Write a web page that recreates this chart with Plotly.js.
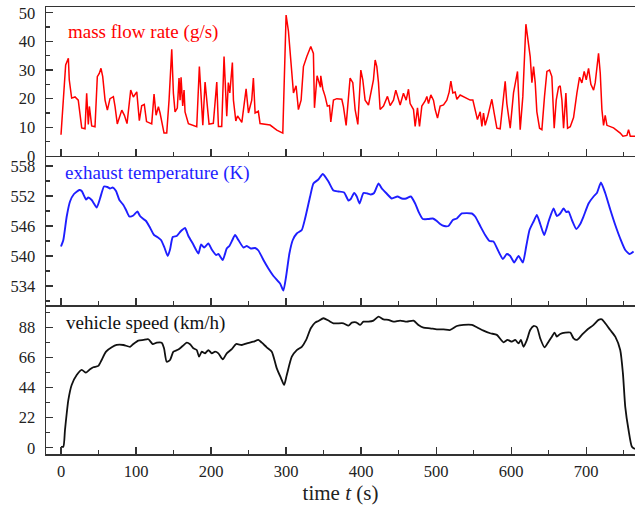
<!DOCTYPE html>
<html>
<head>
<meta charset="utf-8">
<script src="https://cdn.plot.ly/plotly-3.0.1.min.js"></script>
<style>html,body{margin:0;padding:0;background:#fff;}#chart{width:635px;height:510px;}</style>
</head>
<body>
<div id="chart"></div>
<script>
// mass flow rate (g/s)
const flowTime = [0,6.2,9.8,11,14.2,18.7,23,25.3,27.6,32,34.2,36.4,37.8,40.9,45.3,48.4,51,53.3,55.6,58.7,61.8,65.3,69.8,72,75,81,84.5,88,92.9,96.4,101,104.4,107.5,111,114,120.9,124,126.7,129.8,132,137.3,140.9,144,147.6,149.8,152,155,157.3,158.7,160,162.2,164,165.3,169.8,180.9,184.4,186.7,189,192,194.2,197.3,203,207.6,209.8,214.2,217.3,220.9,223,225,228.4,229.8,233,235.3,241,243.6,246.7,249.8,254.2,256.4,258.7,263,265.3,278.7,287.6,295.6,300,303.1,307.6,309.8,313.3,316.4,320,323.1,327.6,332.9,336.4,337.8,341.3,345.8,346.2,349,352,355,357.8,359.6,363.1,367.6,374.2,376.4,380,385.3,388.9,392,395.6,399.6,402.2,405.3,409.8,412.9,416.4,418.7,420.9,423.1,425.3,429.8,435.1,438.7,443.1,446.2,448.9,452,456.4,460,463.1,465.3,469.8,472,475.1,477.8,480.9,485.3,487.6,489.8,492.9,496.4,498.7,501.8,505.3,509.8,514.2,517.3,519.6,522.2,525.3,527.6,532,545.3,548.9,552,555,558.7,560.9,563.1,565.3,568.4,572,574.2,577.3,580.9,585.3,589.8,592,594.2,598.7,603.1,608.4,612,615.5,619.6,623.1,625.3,627.6,629.8,632,634.2,637.8,640.9,644.4,647.6,651.1,654.2,657.3,660,663.1,665.3,667.6,669.8,672.9,675.1,678.7,683.1,687.6,691.1,694.2,697.3,700,703.1,706.2,709.8,712,716.4,718.7,720.9,723.1,725.3,727.6,736.4,745.3,748.9,754.2,756.4,758.7,765];
const flowRate = [7.4,31.8,34.1,26.6,20.2,20.6,19.5,15,9.8,9.5,21.9,11,17.3,10.5,10.2,27.7,28.8,30.6,27.7,19.5,16,20,20.7,17.3,11.2,16,14.2,11.3,23,20.6,22.4,12.3,17.5,18,12,11.2,21.6,14.2,17.2,15,8,8,19.5,37.2,21.9,15.4,16.7,27.2,19.5,27.5,17.5,23,15.4,11.3,10.2,31.2,22,10.7,25.8,19.5,11.1,11.4,25.8,10.3,10.3,34.7,13.9,25.6,22,32.6,19.5,12.2,14,11.7,17.2,23.4,15,19.5,27.2,15,15.6,11.3,10.8,9,8,49.2,43.6,27.2,22,24.5,16.2,19.5,31.2,34.7,38.2,35.8,16.8,28,24,28,23.3,20.8,17.4,17.6,11.9,19.5,20,19.8,17.2,10.7,27.2,25.6,16.2,11,30,26.6,19.5,17.8,22.3,26.6,33.5,31.2,25.6,16.2,17.4,20.8,17.6,19.5,23,20.8,17.8,21.9,19.5,23.3,18.3,16.2,10.3,16.8,10.3,17.4,19.2,20.8,18.3,21.3,19.5,16.2,13.2,17.4,17.8,19.5,22.3,26.1,22,22.3,19.8,21.3,19.5,19.5,16.2,12.7,15.4,10.3,15,10.7,13.5,17.4,19.8,15,9.7,9.5,20.8,26.1,18.3,9.7,22,29.5,9.2,20.8,46,38.2,34.7,25.6,31.2,25.6,15.4,9.7,9.2,20.8,29.5,30,27.7,9.7,19.5,24,24.5,19.5,9.7,22,9.7,10.2,13.4,22,27.5,25.5,29.5,26.6,30.6,25,23,25.6,35.8,28.9,16.2,10.7,14.2,10.7,9.8,8,6.9,7.2,9.2,6.9,6.9];

// exhaust temperature (K)
const tempTime = [0,3.1,7.6,12,17.3,24.4,27.6,33.3,36.4,40.9,47.6,52,57.3,61.8,65.3,68.9,73.3,77.8,83.1,86.7,91.1,96.4,101.8,105.3,109.8,113.3,117.8,124,128.4,133.3,137.8,142.2,145.3,148.9,154.2,158.7,162.2,165.3,169.8,175.6,183.1,186.7,190.7,196.4,200.9,206.7,209.8,215.6,220.9,224.4,228.4,232,236.4,243.1,247.6,252.9,258.7,263.1,269.8,276.4,283.1,292,296.4,300,304.4,308.9,314.2,320.9,325.3,332,336.4,343,348.9,356.4,363.1,369.8,377.3,383.1,386.2,390.7,394.2,397.8,403.1,408.4,412.9,417.3,423.1,427.6,433.3,440.9,448.4,454.2,460,466.2,472,476.4,482.2,489.8,495.6,500.9,505.3,510.7,516.4,522.2,527.6,534.2,547.6,552,558.7,565.3,571.1,576.4,582.2,588.9,594.2,598.7,604,609.8,615.6,620,624.4,629.8,634.2,638.7,644,649.8,656.4,660.9,665.3,669.8,673.3,676.4,680.9,686.7,692,696.4,703.1,709.8,714.2,719.6,725.3,732,738.7,745.3,752,757.8,763.1];
const tempK = [541.9,543.2,547.9,550.9,552.4,553.2,553,551.3,551.7,551.2,549.7,551.5,553.9,553.8,553.5,553.7,553,551.2,550.2,549.2,547.9,548.1,548.9,548,547.4,547,545.9,544.2,543.8,543.2,541.7,540,541.3,543.8,544,544.8,545.3,545.6,544,542.5,540.5,542.3,541.7,542.5,541.3,540.2,540.4,539.2,541.5,542,543.2,544.2,543.2,541.7,542,541.5,541.6,541.1,539.2,537.5,536,534.5,533.1,535.9,540.5,543.2,544.5,545.2,547.5,551.9,554.5,555.3,556.4,554.9,553.1,552.9,552.7,551.1,551.4,552.6,551.9,550.5,552.6,552.5,552.3,552.6,554.5,553.5,552.6,551.5,551.9,551.5,551.5,551.9,550.5,548.9,547.4,547.4,547.5,547,546.4,546,546,547.2,547.5,548.5,548.5,547.9,546,544.2,543,542.9,541.2,539.4,540.4,540,538.7,540,538.7,541.9,545.2,546.9,548.2,546.4,544.2,546.9,549.5,548,548.5,549.5,548.8,548.9,547.2,545.4,546.4,547.9,550.5,551.9,552.6,554.7,552.6,549.3,546.2,543.5,541.2,540.4,540.9];

// vehicle speed (km/h)
const speedTime = [0,3.1,5.3,9.8,14.2,20.9,27.6,33.3,38.7,43.1,49.8,54.2,60,67.6,74.2,83.1,92,96.4,103.1,109.8,116.4,122.2,127.6,134.2,137.3,140.9,145.3,149.8,156.4,162.2,167.6,172,176.4,180.9,184,187.6,192,196.4,200.9,205.3,209.8,215.6,220.9,227.6,233.3,240.9,247.6,256.4,263.1,267.6,274.2,280.9,287.6,293.3,297.3,300.9,307.6,314.2,320.9,326.7,332.9,338.7,343.1,349.8,356.4,363.1,376.4,383.1,387.6,393.3,398.7,403.1,409.8,416.4,423.1,429.8,436.4,443.1,452,460.9,469.8,476.4,483.1,492,500.9,509.8,518.7,527.6,536.4,547.6,554.2,563.1,572,580.9,589.8,595.1,600.9,605.3,609.8,612.9,616.4,620.9,625.3,629.8,634.2,638.7,644.4,649.8,654.2,657.8,660.9,665.3,672,678.7,683.1,687.6,694.2,700.9,709.8,716.4,720.9,725.3,732,738.7,745.3,748.9,752,756.4,760.9,765];
const speedKmh = [0.7,0.7,13,35,46,53.3,57,55,57.5,59,60,64.3,70.4,73.6,75.3,75.3,74,76,78.5,79,79.5,76,77,77,72.9,63,64.3,70.4,72,74.6,77,75.8,72.9,71.6,66.7,70.4,69.2,71.6,69.2,70.4,69.2,64.8,69.2,72.2,76,75.3,76.5,77.7,79,77,73.6,70.4,58.2,50.9,46,53.3,66.7,71.6,74,79,87.6,91.7,92.9,94.9,93.2,91.2,91.2,89.5,91.7,91.9,90,92.4,92.4,93.2,96.1,94.1,93.7,92.4,93.2,92.4,93.2,90,88,87.5,86.8,86.8,86.3,89.2,90,90,88.3,85.8,83.9,82.7,77.3,79,77.7,79,76.5,79,74,79,86.3,89.2,88.3,80.2,73.6,77.7,81.4,84.4,81.4,83.4,84.4,84.4,80.2,79,82.7,86.3,90,93.7,94.1,91.2,86.3,81.4,71.6,54.5,30,13,0.7,-1];

const serif = 'Liberation Serif, Times New Roman, serif';
const tickFont = {family: serif, size: 16.5, color: '#222'};
const axLine = '#333';

function xAx(extra) {
  return Object.assign({
    range: [-20, 765], showline: true, linecolor: axLine, linewidth: 1.5,
    ticks: 'inside', ticklen: 7, tickwidth: 1.3, tickcolor: axLine,
    dtick: 100, tick0: 0, showgrid: false, zeroline: false,
    minor: {ticks: 'inside', ticklen: 4, dtick: 50, tickcolor: axLine, tickwidth: 1.3},
    tickfont: tickFont
  }, extra);
}
function yAx(extra) {
  return Object.assign({
    showline: true, linecolor: axLine, linewidth: 1.5, mirror: false,
    ticks: 'inside', ticklen: 7, tickwidth: 1.3, tickcolor: axLine,
    showgrid: false, zeroline: false, tickfont: tickFont, ticklabelstandoff: 6
  }, extra);
}

const traces = [
  {x: speedTime, y: speedKmh, xaxis: 'x', yaxis: 'y', mode: 'lines',
   line: {color: '#111', width: 1.8, shape: 'spline', smoothing: 0.6}, hoverinfo: 'skip'},
  {x: tempTime, y: tempK, xaxis: 'x2', yaxis: 'y2', mode: 'lines',
   line: {color: 'rgb(30,30,255)', width: 1.9, shape: 'spline', smoothing: 0.5}, hoverinfo: 'skip'},
  {x: flowTime, y: flowRate, xaxis: 'x3', yaxis: 'y3', mode: 'lines',
   line: {color: 'rgb(255,0,0)', width: 1.5}, hoverinfo: 'skip'}
];

const annFont = (c) => ({family: serif, size: 19, color: c});

const layout = {
  width: 635, height: 510,
  margin: {l: 46, r: 0, t: 7, b: 56},
  paper_bgcolor: '#fff', plot_bgcolor: '#fff',
  showlegend: false,
  xaxis: xAx({anchor: 'y', domain: [0, 1], ticklabelstandoff: 2,
    title: {text: 'time <i>t</i> (s)', font: {family: serif, size: 21, color: '#222'}, standoff: 0}}),
  xaxis2: xAx({anchor: 'y2', matches: 'x', showticklabels: false}),
  xaxis3: xAx({anchor: 'y3', matches: 'x', showticklabels: false, mirror: true}),
  yaxis: yAx({domain: [0, 0.3333], range: [-4.6, 104.6], tick0: 0, dtick: 22,
    minor: {ticks: 'inside', ticklen: 4, dtick: 11, tickcolor: axLine, tickwidth: 1.3}}),
  yaxis2: yAx({domain: [0.3333, 0.6667], range: [530.2, 560], tick0: 534, dtick: 6,
    minor: {ticks: 'inside', ticklen: 4, dtick: 3, tickcolor: axLine, tickwidth: 1.3}}),
  yaxis3: yAx({domain: [0.6667, 1], range: [0, 52], tick0: 0, dtick: 10,
    minor: {ticks: 'inside', ticklen: 4, dtick: 5, tickcolor: axLine, tickwidth: 1.3}}),
  annotations: [
    {text: 'mass flow rate (g/s)', xref: 'x3 domain', yref: 'y3 domain', x: 0.034, y: 0.832,
     xanchor: 'left', yanchor: 'middle', showarrow: false, font: annFont('rgb(255,0,0)')},
    {text: 'exhaust temperature (K)', xref: 'x2 domain', yref: 'y2 domain', x: 0.029, y: 0.886,
     xanchor: 'left', yanchor: 'middle', showarrow: false, font: annFont('rgb(30,30,255)')},
    {text: 'vehicle speed (km/h)', xref: 'x domain', yref: 'y domain', x: 0.031, y: 0.879,
     xanchor: 'left', yanchor: 'middle', showarrow: false, font: annFont('#111')}
  ]
};

Plotly.newPlot('chart', traces, layout, {displayModeBar: false, staticPlot: true});
</script>
</body>
</html>
